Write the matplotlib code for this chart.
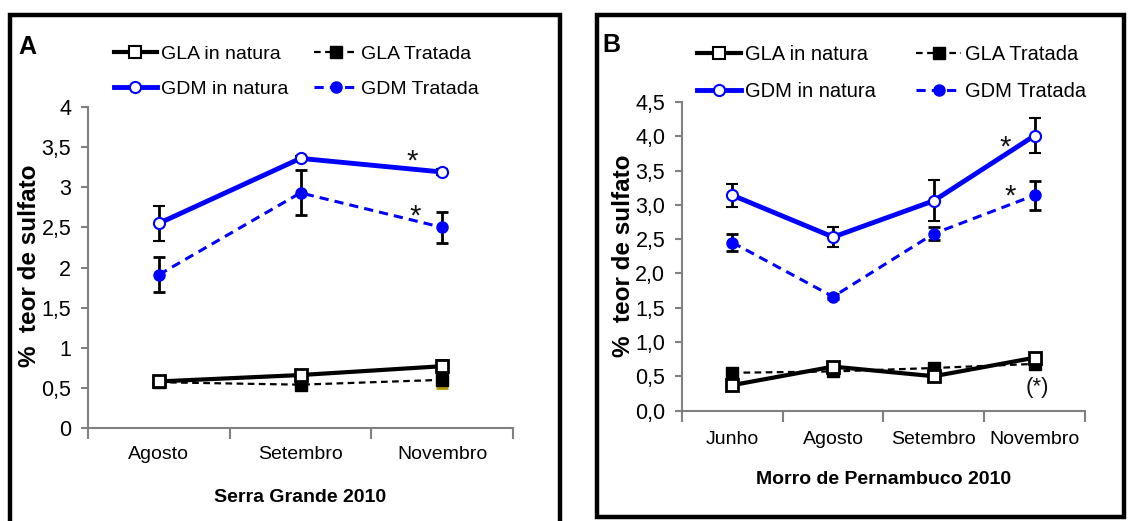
import matplotlib
matplotlib.use("Agg")
import matplotlib.pyplot as plt
from matplotlib.lines import Line2D
from matplotlib.patches import Rectangle

plt.rcParams["font.family"] = ["Liberation Sans", "DejaVu Sans"]

BLUE = "#0000ff"

# --- panel A: Serra Grande 2010
months_a = ["Agosto", "Setembro", "Novembro"]
gla_nat_a = [0.58, 0.66, 0.77]
gla_nat_a_err = [0.03, 0.04, 0.08]
gla_trat_a = [0.57, 0.54, 0.60]
gla_trat_a_err = [0.04, 0.05, 0.10]
gdm_nat_a = [2.55, 3.36, 3.19]
gdm_nat_a_err = [0.22, 0.03, 0.04]
gdm_trat_a = [1.91, 2.93, 2.50]
gdm_trat_a_err = [0.22, 0.28, 0.19]
yticks_a = [0, 0.5, 1, 1.5, 2, 2.5, 3, 3.5, 4]
ylabels_a = ["0", "0,5", "1", "1,5", "2", "2,5", "3", "3,5", "4"]

# --- panel B: Morro de Pernambuco 2010
months_b = ["Junho", "Agosto", "Setembro", "Novembro"]
gla_nat_b = [0.37, 0.64, 0.50, 0.77]
gla_nat_b_err = [0.04, 0.03, 0.04, 0.03]
gla_trat_b = [0.55, 0.57, 0.62, 0.68]
gla_trat_b_err = [0.07, 0.05, 0.07, 0.05]
gdm_nat_b = [3.14, 2.53, 3.06, 4.01]
gdm_nat_b_err = [0.17, 0.15, 0.30, 0.25]
gdm_trat_b = [2.45, 1.66, 2.58, 3.14]
gdm_trat_b_err = [0.12, 0.04, 0.09, 0.21]
yticks_b = [0, 0.5, 1, 1.5, 2, 2.5, 3, 3.5, 4, 4.5]
ylabels_b = ["0,0", "0,5", "1,0", "1,5", "2,0", "2,5", "3,0", "3,5", "4,0", "4,5"]

# significance marks (x in category units, y in data units)
stars_a = [(1.79, 3.32, "*"), (1.81, 2.64, "*")]
stars_b = [(2.71, 3.83, "*"), (2.76, 3.12, "*"), (3.03, 0.33, "(*)")]

W, H = 1128, 521
fig = plt.figure(figsize=(W / 100, H / 100), dpi=100)


def px_axes(x0, x1, ytop, ybot):
    return fig.add_axes([x0 / W, 1 - ybot / H, (x1 - x0) / W, (ybot - ytop) / H])


def draw_panel(ax, months, gla_nat, gla_nat_err, gla_trat, gla_trat_err,
               gdm_nat, gdm_nat_err, gdm_trat, gdm_trat_err, ymax, yticks, ylabels,
               stars, xlabel, trat_ecolor="black", xpad=12):
    x = list(range(len(months)))
    eb = dict(elinewidth=2, capsize=4, capthick=2)
    ax.errorbar(x, gla_trat, yerr=gla_trat_err, color="black", ls=(0, (3, 2)), lw=1.6,
                marker="s", ms=9, mfc="black", mec="black", ecolor=trat_ecolor, zorder=3, **eb)
    ax.errorbar(x, gla_nat, yerr=gla_nat_err, color="black", ls="-", lw=3,
                marker="s", ms=8.5, mfc="white", mec="black", mew=2, ecolor="black", zorder=4, **eb)
    ax.errorbar(x, gdm_trat, yerr=gdm_trat_err, color=BLUE, ls=(0, (3, 2)), lw=2.2,
                marker="o", ms=8, mfc=BLUE, mec=BLUE, ecolor="black", zorder=3, **eb)
    ax.errorbar(x, gdm_nat, yerr=gdm_nat_err, color=BLUE, ls="-", lw=3.5,
                marker="o", ms=8, mfc="white", mec=BLUE, mew=1.5, ecolor="black", zorder=4, **eb)

    for sx, sy, s in stars:
        ax.text(sx, sy, s, ha="center", va="center",
                fontsize=16 if s == "(*)" else 21, color="#111111")

    ax.set_xlim(-0.5, len(months) - 0.5)
    ax.set_ylim(0, ymax)
    ax.set_xticks(x)
    ax.set_xticklabels(months)
    ax.set_xticks([i - 0.5 for i in range(len(months) + 1)], minor=True)
    ax.tick_params(axis="x", which="major", length=0, pad=xpad, labelsize=14)
    ax.tick_params(axis="x", which="minor", length=8, width=1.5, color="#808080", direction="out")
    ax.set_yticks(yticks)
    ax.set_yticklabels(ylabels)
    ax.tick_params(axis="y", length=5, width=1.5, color="#808080", pad=7, labelsize=15.5)
    for side in ("top", "right"):
        ax.spines[side].set_visible(False)
    for side in ("left", "bottom"):
        ax.spines[side].set_color("#808080")
        ax.spines[side].set_linewidth(1.5)
    ax.set_xlabel(xlabel, fontsize=14, fontweight="bold")
    ax.set_ylabel("%  teor de sulfato", fontsize=17.5, fontweight="bold")


ax_a = px_axes(88, 513, 107, 428)
draw_panel(ax_a, months_a, gla_nat_a, gla_nat_a_err, gla_trat_a, gla_trat_a_err,
           gdm_nat_a, gdm_nat_a_err, gdm_trat_a, gdm_trat_a_err, 4, yticks_a, ylabels_a,
           stars_a, "Serra Grande 2010", trat_ecolor="#b89a00", xpad=13)
ax_a.xaxis.set_label_coords(0.5, -(498 - 428) / 321)
ax_a.xaxis.label.set_va("center")
ax_a.yaxis.set_label_coords((30 - 88) / 425, (428 - 266) / 321)
ax_a.yaxis.label.set_va("center")

ax_b = px_axes(682, 1085, 102, 410.5)
draw_panel(ax_b, months_b, gla_nat_b, gla_nat_b_err, gla_trat_b, gla_trat_b_err,
           gdm_nat_b, gdm_nat_b_err, gdm_trat_b, gdm_trat_b_err, 4.5, yticks_b, ylabels_b,
           stars_b, "Morro de Pernambuco 2010", xpad=15)
ax_b.xaxis.set_label_coords(0.5, -(479 - 410.5) / 308.5)
ax_b.xaxis.label.set_va("center")
ax_b.yaxis.set_label_coords((624 - 682) / 403, (410.5 - 256) / 308.5)
ax_b.yaxis.label.set_va("center")

# legend handles
handles = [
    Line2D([], [], color="black", lw=3, marker="s", ms=8, mfc="white", mec="black", mew=1.5),
    Line2D([], [], color=BLUE, lw=3.5, marker="o", ms=8, mfc="white", mec=BLUE, mew=1.5),
    Line2D([], [], color="black", lw=1.6, ls=(0, (3, 2)), marker="s", ms=8, mfc="black", mec="black"),
    Line2D([], [], color=BLUE, lw=2.2, ls=(0, (3, 2)), marker="o", ms=8, mfc=BLUE, mec=BLUE),
]
labels = ["GLA in natura", "GDM in natura", "GLA Tratada", "GDM Tratada"]
for x0, fs, cs in ((114, 14, 1.35), (697, 14.5, 2.0)):
    fig.legend(handles, labels, ncol=2, loc="upper left",
               bbox_to_anchor=(x0 / W, 1 - 45 / H), frameon=False,
               fontsize=fs, handlelength=2.2, handletextpad=0.2,
               columnspacing=cs, labelspacing=0.9, borderpad=0, borderaxespad=0)

# panel letters
fig.text(18 / W, 1 - 47 / H, "A", fontsize=18, fontweight="bold", va="center")
fig.text(602 / W, 1 - 45 / H, "B", fontsize=18, fontweight="bold", va="center")

# black frames around each panel
fig.patches.append(Rectangle((10 / W, -0.05), 550 / W, 1 - 15 / H + 0.05,
                             transform=fig.transFigure, fill=False, lw=3.2, ec="black"))
fig.patches.append(Rectangle((597 / W, 1 - 517 / H), 527 / W, (517 - 15) / H,
                             transform=fig.transFigure, fill=False, lw=3.2, ec="black"))

fig.savefig("out.png", dpi=100)
